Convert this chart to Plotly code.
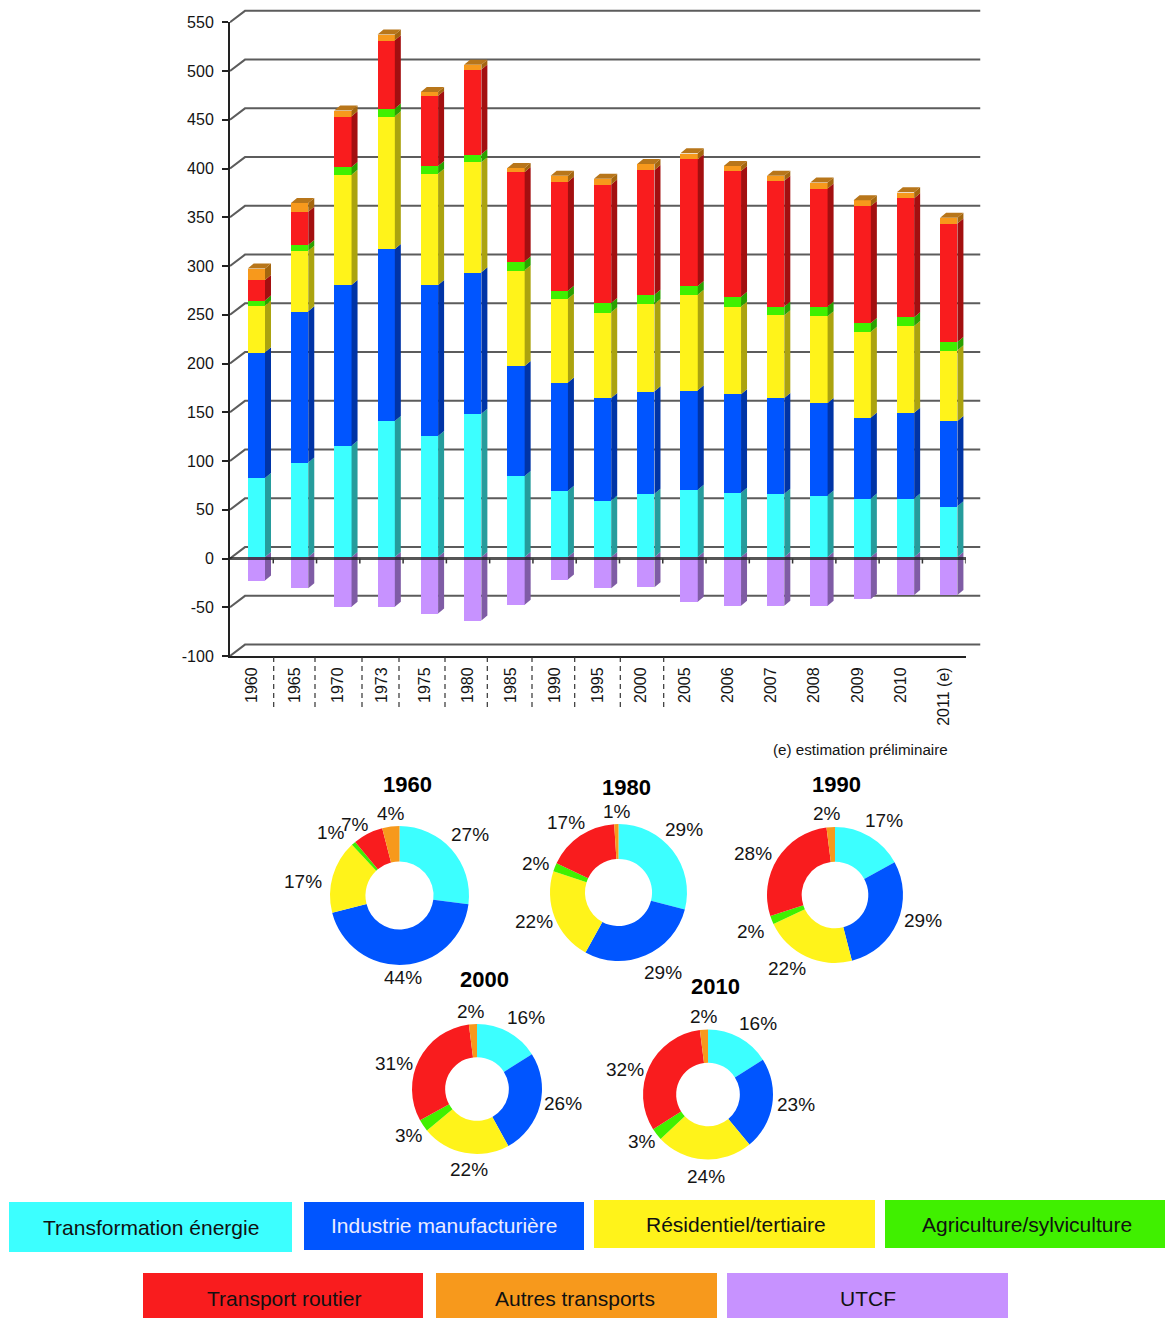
import plotly.graph_objects as go

W, H = 1165, 1318
years = ["1960","1965","1970","1973","1975","1980","1985","1990","1995","2000","2005","2006","2007","2008","2009","2010","2011 (e)"]
transformation = [81,97,114,139.5,124,147,83,68,58,65,69,66,65,63,60,60,52]
industrie = [129,155,165,176.5,155,145,113,111,105,105,102,101,98,95,83,88,87.5]
residentiel = [48,62,113,136,114,113,98,86,88,89.5,98,90,85,89,88,89,72.5]
agriculture = [5,6,8,8,8,8,9,8,9.5,9.5,9,10,9,10,9,9,8.5]
routier = [21,34,52,70,72,87,92,112,121.5,128,130,129,129,121,120,122,121.5]
autres = [12,9,6,6,4,5,4,6,6,6,6,5,5,6,6,6,6]
utcf = [-24,-32,-51,-51,-58,-65,-49,-23,-32,-31,-46,-50,-50,-50,-43,-39,-39]

names = ["Transformation énergie","Industrie manufacturière","Résidentiel/tertiaire","Agriculture/sylviculture","Transport routier","Autres transports","UTCF"]
colors = ["#3CFFFF","#0055FF","#FFF31A","#40F000","#F91C1E","#F7991C","#C792FF"]
sides = ["#269C9C","#0034A6","#ABA30F","#2AA000","#A30F10","#A4660F","#7F5CA5"]
stack = [transformation, industrie, residentiel, agriculture, routier, autres]

pie_1960 = [27,44,17,1,7,4]
pie_1980 = [29,29,22,2,17,1]
pie_1990 = [17,29,22,2,28,2]
pie_2000 = [16,26,22,3,31,2]
pie_2010 = [16,23,24,3,32,2]

def fx(x): return x / W
def fy(y): return 1 - y / H

fig = go.Figure()
n = len(years)
cat_px = (965.7 - 230) / n
val_px = 0.975
bw = 17.3 / cat_px
off = -3.94 / cat_px
ddx = 6 / cat_px
ddy = 5 / val_px
tv = list(range(-100, 551, 50))

# back wall: slanted connector then horizontal line for every tick
wall_dy = 11.4 / val_px
cx, cy = [], []
for t in tv:
    cx += [230, 245, 980.5, None]
    cy += [t, t + wall_dy, t + wall_dy, None]
fig.add_trace(go.Scatter(x=cx, y=cy, mode="lines", line=dict(color="#5c5c5c", width=2), xaxis="x", yaxis="y", hoverinfo="skip"))

def side_poly(base, top):
    xs, ys = [], []
    for i in range(n):
        xr = i + off + bw
        xs += [xr, xr + ddx, xr + ddx, xr, xr, None]
        ys += [base[i], base[i] + ddy, top[i] + ddy, top[i], base[i], None]
    return xs, ys

# side faces
xs, ys = side_poly([0] * n, utcf)
fig.add_trace(go.Scatter(x=xs, y=ys, mode="lines", fill="toself", fillcolor=sides[6], line=dict(width=0), xaxis="x2", yaxis="y2", hoverinfo="skip"))
base = [0] * n
for k, s in enumerate(stack):
    top = [b + v for b, v in zip(base, s)]
    xs, ys = side_poly(base, top)
    fig.add_trace(go.Scatter(x=xs, y=ys, mode="lines", fill="toself", fillcolor=sides[k], line=dict(width=0), xaxis="x2", yaxis="y2", hoverinfo="skip"))
    base = top
# top face
xs, ys = [], []
for i in range(n):
    x0 = i + off
    x1 = x0 + bw
    xs += [x0, x0 + ddx, x1 + ddx, x1, x0, None]
    ys += [base[i], base[i] + ddy, base[i] + ddy, base[i], base[i], None]
fig.add_trace(go.Scatter(x=xs, y=ys, mode="lines", fill="toself", fillcolor="#B8761A", line=dict(width=0), xaxis="x2", yaxis="y2", hoverinfo="skip"))

# front faces
for k, s in enumerate(stack + [utcf]):
    fig.add_trace(go.Bar(x=list(range(n)), y=s, name=names[k], width=bw, offset=off, marker=dict(color=colors[k], line=dict(width=0)), xaxis="x2", yaxis="y2"))

# doughnuts
pies = [(pie_1960, 399.5, 895.5, 69.5), (pie_1980, 618.5, 892.5, 68.5), (pie_1990, 835, 895, 68), (pie_2000, 477, 1089, 65), (pie_2010, 708, 1094.5, 65)]
for vals, cxp, cyp, r in pies:
    fig.add_trace(go.Pie(values=vals, labels=names[:6], sort=False, direction="clockwise", rotation=0, hole=0.49,
                         textinfo="none", marker=dict(colors=colors[:6], line=dict(width=0)),
                         domain=dict(x=[fx(cxp - r), fx(cxp + r)], y=[fy(cyp + r), fy(cyp - r)])))

font = "Liberation Sans, Arial, sans-serif"
ink = "#141414"
ann = []
def label(x, y, t, size=19, color=ink, bold=False):
    ann.append(dict(x=fx(x), y=fy(y - 1), xref="paper", yref="paper", text=f"<b>{t}</b>" if bold else t, showarrow=False,
                    xanchor="center", yanchor="middle", font=dict(family=font, size=size, color=color)))

pct_labels = [
 (470,835,"27%"),(403,979,"44%"),(303,882,"17%"),(331,833,"1%"),(355,825,"7%"),(391,814,"4%"),
 (684,830,"29%"),(663,973,"29%"),(534,922,"22%"),(536,864,"2%"),(566,823,"17%"),(617,812,"1%"),
 (884,821,"17%"),(923,921,"29%"),(787,969,"22%"),(751,932,"2%"),(753,855,"28%"),(827,814,"2%"),
 (526,1018,"16%"),(563,1104,"26%"),(469,1170,"22%"),(409,1136,"3%"),(394,1064,"31%"),(471,1012,"2%"),
 (758,1024,"16%"),(796,1105,"23%"),(706,1177,"24%"),(642,1142,"3%"),(625,1070,"32%"),(704,1017,"2%"),
]
for x, y, t in pct_labels:
    label(x, y, t)
for x, y, t in [(407,785,"1960"),(626,788,"1980"),(837,785,"1990"),(484,981,"2000"),(715,988,"2010")]:
    label(x, y, t, size=22, bold=True, color="#000000")
label(860.5, 750, "(e) estimation préliminaire", size=15.2)

shapes = []
boxes = [(9,292,1202,1252,151,1228),(304,584,1202,1250,444,1226),(594,875,1200,1248,736,1225),(885,1165,1200,1248,1027,1225),
         (143,423,1273,1318,284,1299),(436,717,1273,1318,575,1299),(727,1008,1273,1318,868,1299)]
for k, (x0, x1, y0, y1, tx, ty) in enumerate(boxes):
    shapes.append(dict(type="rect", xref="paper", yref="paper", x0=fx(x0), x1=fx(x1), y0=fy(y1), y1=fy(y0), fillcolor=colors[k], line=dict(width=0), layer="below"))
    label(tx, ty, names[k], size=21, color="#ECECFF" if k == 1 else "#111111")

# ticks on the zero line
for i in range(n):
    shapes.append(dict(type="line", xref="x3", yref="y3", x0=i + 0.5, x1=i + 0.5, y0=0, y1=-5, line=dict(color="#333333", width=1.5)))
# dashed separators
for px in [273.7,315,362,399,445,487.3,532,574.7,620.3,663.7]:
    shapes.append(dict(type="line", xref="paper", yref="paper", x0=fx(px), x1=fx(px), y0=fy(657), y1=fy(711), line=dict(color="#333333", width=1.2, dash="5px,4px")))

xdom = [fx(230), fx(965.7)]
common = dict(showticklabels=False, ticks="", showline=False, zeroline=False, showgrid=False)
fig.update_layout(
    width=W, height=H, margin=dict(l=0, r=0, t=0, b=0, autoexpand=False), paper_bgcolor="white", plot_bgcolor="rgba(0,0,0,0)",
    showlegend=False, barmode="relative", bargap=0, annotations=ann, shapes=shapes,
    font=dict(family=font, color=ink),
    # back wall
    xaxis=dict(domain=[fx(230), fx(980.5)], range=[230, 980.5], anchor="y", **common),
    yaxis=dict(domain=[fy(656), fy(9)], range=[-100, -100 + (656 - 9) / val_px], anchor="x", **common),
    # bars
    xaxis2=dict(domain=xdom, range=[-0.5, n - 0.5], anchor="y2", **common),
    yaxis2=dict(domain=[fy(557 + 100 * val_px), fy(557 - 550 * val_px)], range=[-100, 550], anchor="x2", **common),
    # visible front axes
    xaxis3=dict(domain=xdom, range=[-0.5, n - 0.5], anchor="y3", tickvals=list(range(n)), ticktext=years, tickangle=-90,
                showgrid=False, zeroline=False, showline=True, linecolor="#222222", linewidth=2, ticks="", ticklabelstandoff=3,
                tickfont=dict(family=font, size=16, color=ink)),
    yaxis3=dict(domain=[fy(656), fy(22.4)], range=[-100, 550], anchor="x3", tickvals=tv, ticktext=[str(t) for t in tv], showgrid=False,
                zeroline=True, zerolinecolor="rgba(30,30,30,0.75)", zerolinewidth=2.5,
                showline=True, linecolor="#222222", linewidth=2, ticks="outside", ticklen=6, tickwidth=2, tickcolor="#222222",
                ticklabelstandoff=5, tickfont=dict(family=font, size=16, color=ink)),
)
fig.write_html("out.html", config={"displayModeBar": False}, post_script="document.body.style.margin='0';")
